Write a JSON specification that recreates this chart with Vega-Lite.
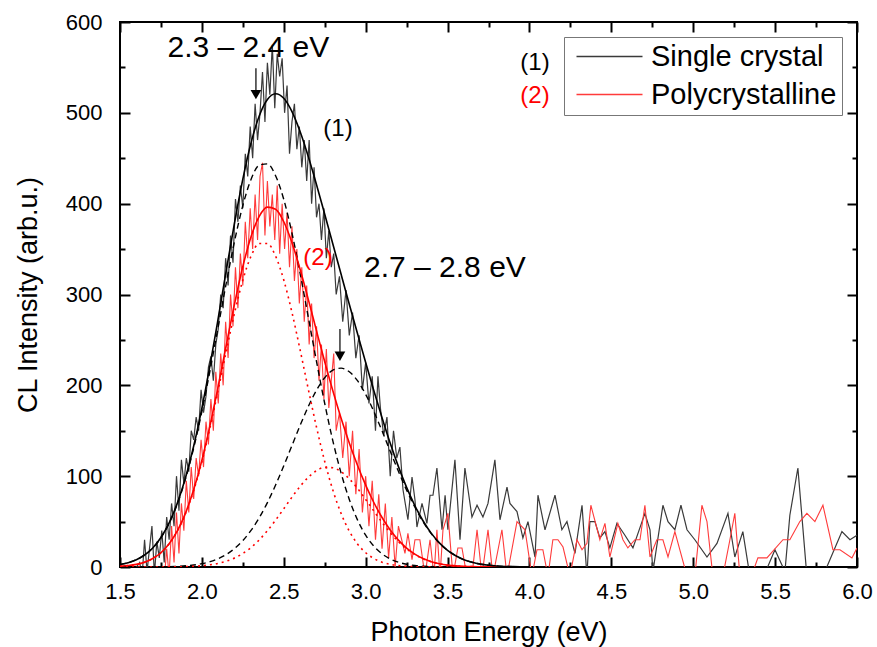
{
  "$schema": "https://vega.github.io/schema/vega-lite/v6.json",
  "width": 737,
  "height": 545,
  "autosize": {"type": "none"},
  "padding": {"left": 120, "top": 22, "right": 20, "bottom": 80},
  "background": "white",
  "config": {
    "font": "Liberation Sans",
    "view": {"stroke": "black", "strokeWidth": 2},
    "axis": {"grid": false, "domain": false, "ticks": true, "tickColor": "black", "tickWidth": 2, "labelColor": "black", "titleColor": "black", "labelFont": "Liberation Sans", "titleFont": "Liberation Sans", "titleFontWeight": "normal", "labelFontSize": 22, "titleFontSize": 27},
    "legend": {"orient": "top-right", "offset": 15, "strokeColor": "#777777", "strokeWidth": 1, "fillColor": "white", "padding": 5, "symbolType": "M-6,0H6", "symbolSize": 121, "symbolStrokeWidth": 1.5, "symbolOffset": 26, "labelFontSize": 29, "labelFont": "Liberation Sans", "labelColor": "black", "rowPadding": 8, "labelOffset": 27, "labelLimit": 300}
  },
  "datasets": {
    "sc": [
      {"e":1.5,"v":-10},{"e":1.53,"v":-5},{"e":1.56,"v":-12},{"e":1.59,"v":-3},{"e":1.62,"v":5},{"e":1.635,"v":-10},{"e":1.65,"v":30},{"e":1.665,"v":-5},{"e":1.68,"v":20},{"e":1.695,"v":45},{"e":1.71,"v":-8},{"e":1.725,"v":28},{"e":1.74,"v":10},{"e":1.755,"v":40},{"e":1.77,"v":5},{"e":1.785,"v":55},{"e":1.8,"v":30},{"e":1.815,"v":70},{"e":1.83,"v":45},{"e":1.845,"v":100},{"e":1.86,"v":62},{"e":1.875,"v":118},{"e":1.89,"v":92},{"e":1.905,"v":120},{"e":1.92,"v":105},{"e":1.935,"v":150},{"e":1.95,"v":140},{"e":1.965,"v":165},{"e":1.98,"v":150},{"e":1.995,"v":195},{"e":2.01,"v":170},{"e":2.025,"v":188},{"e":2.04,"v":220},{"e":2.055,"v":232},{"e":2.07,"v":205},{"e":2.085,"v":245},{"e":2.1,"v":262},{"e":2.115,"v":300},{"e":2.13,"v":285},{"e":2.145,"v":340},{"e":2.16,"v":310},{"e":2.175,"v":365},{"e":2.19,"v":335},{"e":2.205,"v":405},{"e":2.22,"v":380},{"e":2.235,"v":420},{"e":2.25,"v":395},{"e":2.265,"v":455},{"e":2.28,"v":430},{"e":2.295,"v":485},{"e":2.31,"v":450},{"e":2.325,"v":510},{"e":2.34,"v":470},{"e":2.355,"v":500},{"e":2.37,"v":545},{"e":2.385,"v":490},{"e":2.4,"v":555},{"e":2.415,"v":520},{"e":2.43,"v":575},{"e":2.445,"v":505},{"e":2.46,"v":565},{"e":2.475,"v":540},{"e":2.49,"v":560},{"e":2.505,"v":500},{"e":2.52,"v":530},{"e":2.535,"v":455},{"e":2.55,"v":490},{"e":2.565,"v":510},{"e":2.58,"v":460},{"e":2.595,"v":485},{"e":2.61,"v":440},{"e":2.625,"v":470},{"e":2.64,"v":425},{"e":2.655,"v":470},{"e":2.67,"v":400},{"e":2.685,"v":440},{"e":2.7,"v":385},{"e":2.715,"v":400},{"e":2.73,"v":360},{"e":2.745,"v":395},{"e":2.76,"v":340},{"e":2.775,"v":370},{"e":2.79,"v":330},{"e":2.805,"v":345},{"e":2.82,"v":300},{"e":2.84,"v":320},{"e":2.86,"v":270},{"e":2.88,"v":305},{"e":2.9,"v":255},{"e":2.92,"v":280},{"e":2.94,"v":230},{"e":2.96,"v":255},{"e":2.98,"v":195},{"e":3.0,"v":225},{"e":3.02,"v":180},{"e":3.04,"v":210},{"e":3.06,"v":150},{"e":3.075,"v":210},{"e":3.09,"v":175},{"e":3.11,"v":145},{"e":3.13,"v":165},{"e":3.15,"v":100},{"e":3.17,"v":150},{"e":3.19,"v":120},{"e":3.209,"v":132},{"e":3.228,"v":85},{"e":3.258,"v":52},{"e":3.283,"v":99},{"e":3.301,"v":74},{"e":3.313,"v":44},{"e":3.344,"v":70},{"e":3.374,"v":48},{"e":3.393,"v":79},{"e":3.411,"v":79},{"e":3.435,"v":109},{"e":3.466,"v":41},{"e":3.485,"v":79},{"e":3.502,"v":41},{"e":3.545,"v":118},{"e":3.576,"v":30},{"e":3.606,"v":109},{"e":3.649,"v":55},{"e":3.68,"v":68},{"e":3.716,"v":55},{"e":3.747,"v":70},{"e":3.789,"v":118},{"e":3.82,"v":52},{"e":3.863,"v":88},{"e":3.881,"v":70},{"e":3.924,"v":61},{"e":3.96,"v":32},{"e":3.991,"v":50},{"e":4.034,"v":11},{"e":4.052,"v":79},{"e":4.095,"v":41},{"e":4.156,"v":79},{"e":4.198,"v":41},{"e":4.229,"v":50},{"e":4.278,"v":15},{"e":4.321,"v":68},{"e":4.351,"v":-10},{"e":4.369,"v":50},{"e":4.4,"v":50},{"e":4.43,"v":32},{"e":4.461,"v":39},{"e":4.491,"v":21},{"e":4.534,"v":48},{"e":4.583,"v":35},{"e":4.632,"v":21},{"e":4.705,"v":59},{"e":4.736,"v":41},{"e":4.754,"v":-5},{"e":4.815,"v":68},{"e":4.846,"v":50},{"e":4.888,"v":41},{"e":4.925,"v":68},{"e":4.962,"v":41},{"e":5.01,"v":30},{"e":5.084,"v":11},{"e":5.145,"v":26},{"e":5.212,"v":59},{"e":5.254,"v":11},{"e":5.303,"v":39},{"e":5.346,"v":-10},{"e":5.419,"v":-15},{"e":5.499,"v":19},{"e":5.56,"v":-5},{"e":5.59,"v":57},{"e":5.639,"v":109},{"e":5.694,"v":-10},{"e":5.792,"v":-10},{"e":5.908,"v":39},{"e":5.957,"v":30},{"e":6.0,"v":35}
    ],
    "pc": [
      {"e":1.5,"v":-15},{"e":1.56,"v":-20},{"e":1.62,"v":-10},{"e":1.68,"v":-25},{"e":1.74,"v":-8},{"e":1.77,"v":-15},{"e":1.785,"v":20},{"e":1.8,"v":-10},{"e":1.815,"v":45},{"e":1.83,"v":5},{"e":1.845,"v":60},{"e":1.86,"v":15},{"e":1.875,"v":70},{"e":1.89,"v":40},{"e":1.905,"v":95},{"e":1.92,"v":60},{"e":1.935,"v":110},{"e":1.95,"v":75},{"e":1.965,"v":120},{"e":1.98,"v":100},{"e":1.995,"v":140},{"e":2.01,"v":110},{"e":2.025,"v":160},{"e":2.04,"v":135},{"e":2.055,"v":185},{"e":2.07,"v":150},{"e":2.085,"v":215},{"e":2.1,"v":180},{"e":2.115,"v":235},{"e":2.13,"v":200},{"e":2.145,"v":270},{"e":2.16,"v":230},{"e":2.175,"v":300},{"e":2.19,"v":265},{"e":2.205,"v":330},{"e":2.22,"v":285},{"e":2.235,"v":345},{"e":2.25,"v":310},{"e":2.265,"v":380},{"e":2.28,"v":340},{"e":2.295,"v":395},{"e":2.31,"v":350},{"e":2.325,"v":410},{"e":2.34,"v":360},{"e":2.355,"v":430},{"e":2.37,"v":445},{"e":2.385,"v":365},{"e":2.4,"v":425},{"e":2.415,"v":375},{"e":2.43,"v":410},{"e":2.445,"v":360},{"e":2.46,"v":420},{"e":2.475,"v":345},{"e":2.49,"v":400},{"e":2.505,"v":350},{"e":2.52,"v":390},{"e":2.535,"v":330},{"e":2.55,"v":375},{"e":2.565,"v":315},{"e":2.58,"v":350},{"e":2.595,"v":290},{"e":2.61,"v":330},{"e":2.625,"v":270},{"e":2.64,"v":310},{"e":2.655,"v":245},{"e":2.67,"v":290},{"e":2.685,"v":230},{"e":2.7,"v":265},{"e":2.715,"v":205},{"e":2.73,"v":245},{"e":2.745,"v":185},{"e":2.76,"v":240},{"e":2.775,"v":175},{"e":2.79,"v":205},{"e":2.805,"v":235},{"e":2.82,"v":150},{"e":2.84,"v":170},{"e":2.86,"v":120},{"e":2.88,"v":160},{"e":2.9,"v":100},{"e":2.92,"v":150},{"e":2.94,"v":80},{"e":2.96,"v":130},{"e":2.98,"v":60},{"e":3.0,"v":100},{"e":3.02,"v":45},{"e":3.04,"v":95},{"e":3.06,"v":30},{"e":3.08,"v":80},{"e":3.1,"v":20},{"e":3.12,"v":70},{"e":3.14,"v":10},{"e":3.16,"v":55},{"e":3.18,"v":0},{"e":3.2,"v":45},{"e":3.24,"v":15},{"e":3.258,"v":37},{"e":3.283,"v":8},{"e":3.301,"v":30},{"e":3.331,"v":30},{"e":3.362,"v":-10},{"e":3.393,"v":30},{"e":3.417,"v":-10},{"e":3.435,"v":41},{"e":3.454,"v":-10},{"e":3.472,"v":41},{"e":3.502,"v":59},{"e":3.533,"v":-10},{"e":3.563,"v":21},{"e":3.588,"v":21},{"e":3.618,"v":-10},{"e":3.649,"v":-10},{"e":3.68,"v":41},{"e":3.71,"v":-10},{"e":3.747,"v":41},{"e":3.777,"v":-10},{"e":3.832,"v":41},{"e":3.863,"v":-10},{"e":3.924,"v":50},{"e":3.973,"v":41},{"e":4.015,"v":-10},{"e":4.046,"v":19},{"e":4.082,"v":19},{"e":4.113,"v":-10},{"e":4.143,"v":30},{"e":4.174,"v":30},{"e":4.205,"v":22},{"e":4.247,"v":-10},{"e":4.29,"v":30},{"e":4.321,"v":19},{"e":4.351,"v":26},{"e":4.375,"v":68},{"e":4.43,"v":30},{"e":4.461,"v":48},{"e":4.491,"v":11},{"e":4.54,"v":48},{"e":4.571,"v":30},{"e":4.601,"v":21},{"e":4.644,"v":30},{"e":4.675,"v":30},{"e":4.705,"v":68},{"e":4.736,"v":11},{"e":4.778,"v":30},{"e":4.815,"v":30},{"e":4.846,"v":11},{"e":4.888,"v":39},{"e":4.962,"v":-10},{"e":5.01,"v":-10},{"e":5.053,"v":68},{"e":5.084,"v":50},{"e":5.12,"v":-10},{"e":5.181,"v":-10},{"e":5.224,"v":30},{"e":5.254,"v":59},{"e":5.285,"v":-10},{"e":5.365,"v":-5},{"e":5.395,"v":10},{"e":5.45,"v":10},{"e":5.548,"v":30},{"e":5.59,"v":30},{"e":5.651,"v":50},{"e":5.694,"v":59},{"e":5.743,"v":50},{"e":5.792,"v":68},{"e":5.853,"v":19},{"e":5.896,"v":19},{"e":5.969,"v":10},{"e":6.0,"v":21}
    ],
    "fit": [
      {"e":1.5,"b1":2.7,"b2":0,"bs":2.7,"r1":0.8,"r2":0,"rs":0.8},
      {"e":1.55,"b1":4.7,"b2":0,"bs":4.7,"r1":1.6,"r2":0,"rs":1.6},
      {"e":1.6,"b1":8.0,"b2":0,"bs":8.0,"r1":2.9,"r2":0,"rs":2.9},
      {"e":1.65,"b1":13.1,"b2":0.1,"bs":13.2,"r1":5.3,"r2":0,"rs":5.3},
      {"e":1.7,"b1":20.9,"b2":0.1,"bs":21.0,"r1":9.4,"r2":0,"rs":9.4},
      {"e":1.75,"b1":32.3,"b2":0.2,"bs":32.5,"r1":15.7,"r2":0,"rs":15.7},
      {"e":1.8,"b1":48.1,"b2":0.4,"bs":48.5,"r1":25.4,"r2":0.1,"rs":25.5},
      {"e":1.85,"b1":69.5,"b2":0.8,"bs":70.3,"r1":39.5,"r2":0.2,"rs":39.7},
      {"e":1.9,"b1":97.0,"b2":1.3,"bs":98.3,"r1":58.9,"r2":0.4,"rs":59.3},
      {"e":1.95,"b1":131.0,"b2":2.2,"bs":133.2,"r1":84.4,"r2":0.8,"rs":85.2},
      {"e":2.0,"b1":171.3,"b2":3.7,"bs":175.0,"r1":116.2,"r2":1.4,"rs":117.6},
      {"e":2.05,"b1":216.6,"b2":5.9,"bs":222.5,"r1":153.8,"r2":2.4,"rs":156.2},
      {"e":2.1,"b1":265.0,"b2":9.2,"bs":274.2,"r1":195.5,"r2":4.0,"rs":199.5},
      {"e":2.15,"b1":313.7,"b2":13.9,"bs":327.6,"r1":238.8,"r2":6.4,"rs":245.2},
      {"e":2.2,"b1":359.2,"b2":20.4,"bs":379.6,"r1":280.2,"r2":10.0,"rs":290.2},
      {"e":2.25,"b1":398.0,"b2":29.0,"bs":427.0,"r1":315.9,"r2":14.9,"rs":330.8},
      {"e":2.3,"b1":426.6,"b2":40.3,"bs":466.9,"r1":342.2,"r2":21.5,"rs":363.7},
      {"e":2.35,"b1":442.4,"b2":54.2,"bs":496.6,"r1":356.2,"r2":29.8,"rs":386.0},
      {"e":2.4,"b1":443.8,"b2":70.9,"bs":514.7,"r1":356.2,"r2":40.0,"rs":396.2},
      {"e":2.45,"b1":430.8,"b2":90.2,"bs":521.0,"r1":342.2,"r2":51.6,"rs":393.8},
      {"e":2.5,"b1":404.6,"b2":111.4,"bs":516.0,"r1":315.9,"r2":64.2,"rs":380.1},
      {"e":2.55,"b1":367.6,"b2":133.7,"bs":501.3,"r1":280.2,"r2":76.9,"rs":357.1},
      {"e":2.6,"b1":323.1,"b2":156.0,"bs":479.1,"r1":238.8,"r2":88.8,"rs":327.6},
      {"e":2.65,"b1":274.8,"b2":176.8,"bs":451.6,"r1":195.5,"r2":98.9,"rs":294.4},
      {"e":2.7,"b1":226.1,"b2":194.7,"bs":420.8,"r1":153.8,"r2":106.1,"rs":259.9},
      {"e":2.75,"b1":180.0,"b2":208.4,"bs":388.4,"r1":116.2,"r2":109.7,"rs":225.9},
      {"e":2.8,"b1":138.6,"b2":216.7,"bs":355.3,"r1":84.4,"r2":109.3,"rs":193.7},
      {"e":2.85,"b1":103.3,"b2":218.9,"bs":322.2,"r1":58.9,"r2":104.9,"rs":163.8},
      {"e":2.9,"b1":74.4,"b2":214.9,"bs":289.3,"r1":39.5,"r2":97.1,"rs":136.6},
      {"e":2.95,"b1":51.9,"b2":205.1,"bs":257.0,"r1":25.4,"r2":86.6,"rs":112.0},
      {"e":3.0,"b1":35.0,"b2":190.1,"bs":225.1,"r1":15.7,"r2":74.4,"rs":90.1},
      {"e":3.05,"b1":22.9,"b2":171.2,"bs":194.1,"r1":9.4,"r2":61.6,"rs":71.0},
      {"e":3.1,"b1":14.5,"b2":149.8,"bs":164.3,"r1":5.3,"r2":49.2,"rs":54.5},
      {"e":3.15,"b1":8.8,"b2":127.4,"bs":136.2,"r1":2.9,"r2":37.8,"rs":40.7},
      {"e":3.2,"b1":5.2,"b2":105.3,"bs":110.5,"r1":1.6,"r2":28.0,"rs":29.6},
      {"e":3.25,"b1":3.0,"b2":84.6,"bs":87.6,"r1":0.8,"r2":20.0,"rs":20.8},
      {"e":3.3,"b1":1.7,"b2":66.0,"bs":67.7,"r1":0.4,"r2":13.8,"rs":14.2},
      {"e":3.35,"b1":0.9,"b2":50.0,"bs":50.9,"r1":0.2,"r2":9.1,"rs":9.3},
      {"e":3.4,"b1":0.5,"b2":36.8,"bs":37.3,"r1":0.1,"r2":5.8,"rs":5.9},
      {"e":3.45,"b1":0.2,"b2":26.4,"bs":26.6,"r1":0,"r2":3.6,"rs":3.6},
      {"e":3.5,"b1":0.1,"b2":18.3,"bs":18.4,"r1":0,"r2":2.1,"rs":2.1},
      {"e":3.55,"b1":0,"b2":12.4,"bs":12.4,"r1":0,"r2":1.2,"rs":1.2},
      {"e":3.6,"b1":0,"b2":8.1,"bs":8.1,"r1":0,"r2":0.7,"rs":0.7},
      {"e":3.65,"b1":0,"b2":5.2,"bs":5.2,"r1":0,"r2":0.4,"rs":0.4},
      {"e":3.7,"b1":0,"b2":3.2,"bs":3.2,"r1":0,"r2":0.2,"rs":0.2},
      {"e":3.75,"b1":0,"b2":1.9,"bs":1.9,"r1":0,"r2":0.1,"rs":0.1},
      {"e":3.8,"b1":0,"b2":1.1,"bs":1.1,"r1":0,"r2":0,"rs":0},
      {"e":3.9,"b1":0,"b2":0.4,"bs":0.4,"r1":0,"r2":0,"rs":0},
      {"e":4.0,"b1":0,"b2":0.1,"bs":0.1,"r1":0,"r2":0,"rs":0}
    ]
  },
  "resolve": {"axis": {"x": "independent", "y": "independent"}},
  "layer": [
    {
      "data": {"name": "sc"},
      "mark": {"type": "line", "clip": true, "strokeWidth": 1.2},
      "encoding": {
        "x": {"field": "e", "type": "quantitative", "scale": {"domain": [1.5, 6], "nice": false, "zero": false},
              "axis": {"orient": "bottom", "values": [1.5, 2, 2.5, 3, 3.5, 4, 4.5, 5, 5.5, 6], "format": ".1f", "tickSize": 0, "labelPadding": 14, "labelFlush": false, "title": "Photon Energy (eV)", "titlePadding": 17}},
        "y": {"field": "v", "type": "quantitative", "scale": {"domain": [0, 600], "nice": false},
              "axis": {"orient": "left", "values": [0, 100, 200, 300, 400, 500, 600], "format": "d", "tickSize": 0, "labelPadding": 18, "title": "CL Intensity (arb.u.)", "titlePadding": 23}},
        "color": {"datum": "Single crystal", "type": "nominal", "scale": {"domain": ["Single crystal", "Polycrystalline"], "range": ["#3a3a3a", "#ff3b3b"]}, "legend": {"title": null}}
      }
    },
    {
      "data": {"name": "pc"},
      "mark": {"type": "line", "clip": true, "strokeWidth": 1.1},
      "encoding": {
        "x": {"field": "e", "type": "quantitative", "axis": {"orient": "bottom", "values": [1.5, 2, 2.5, 3, 3.5, 4, 4.5, 5, 5.5, 6], "offset": -10, "tickSize": 10, "labels": false, "title": null}},
        "y": {"field": "v", "type": "quantitative", "axis": {"orient": "left", "values": [0, 100, 200, 300, 400, 500, 600], "offset": -10, "tickSize": 10, "labels": false, "title": null}},
        "color": {"datum": "Polycrystalline", "type": "nominal"}
      }
    },
    {
      "data": {"name": "fit"},
      "mark": {"type": "line", "clip": true, "color": "black", "strokeWidth": 1.4, "strokeDash": [6, 4], "interpolate": "monotone"},
      "encoding": {
        "x": {"field": "e", "type": "quantitative", "axis": {"orient": "bottom", "values": [1.75, 2.25, 2.75, 3.25, 3.75, 4.25, 4.75, 5.25, 5.75], "offset": -5, "tickSize": 5, "labels": false, "title": null}},
        "y": {"field": "b1", "type": "quantitative", "axis": {"orient": "left", "values": [50, 150, 250, 350, 450, 550], "offset": -5, "tickSize": 5, "labels": false, "title": null}}
      }
    },
    {
      "data": {"name": "fit"},
      "mark": {"type": "line", "clip": true, "color": "black", "strokeWidth": 1.4, "strokeDash": [6, 4], "interpolate": "monotone"},
      "encoding": {
        "x": {"field": "e", "type": "quantitative", "axis": {"orient": "top", "values": [1.5, 2, 2.5, 3, 3.5, 4, 4.5, 5, 5.5, 6], "offset": -10, "tickSize": 10, "labels": false, "title": null}},
        "y": {"field": "b2", "type": "quantitative", "axis": {"orient": "right", "values": [0, 100, 200, 300, 400, 500, 600], "offset": -10, "tickSize": 10, "labels": false, "title": null}}
      }
    },
    {
      "data": {"name": "fit"},
      "mark": {"type": "line", "clip": true, "color": "#ff0000", "strokeWidth": 1.6, "strokeDash": [2, 4], "interpolate": "monotone"},
      "encoding": {
        "x": {"field": "e", "type": "quantitative", "axis": {"orient": "top", "values": [1.75, 2.25, 2.75, 3.25, 3.75, 4.25, 4.75, 5.25, 5.75], "offset": -5, "tickSize": 5, "labels": false, "title": null}},
        "y": {"field": "r1", "type": "quantitative", "axis": {"orient": "right", "values": [50, 150, 250, 350, 450, 550], "offset": -5, "tickSize": 5, "labels": false, "title": null}}
      }
    },
    {
      "data": {"name": "fit"},
      "mark": {"type": "line", "clip": true, "color": "#ff0000", "strokeWidth": 1.6, "strokeDash": [2, 4], "interpolate": "monotone"},
      "encoding": {
        "x": {"field": "e", "type": "quantitative", "axis": null},
        "y": {"field": "r2", "type": "quantitative", "axis": null}
      }
    },
    {
      "data": {"name": "fit"},
      "mark": {"type": "line", "clip": true, "color": "#ff0000", "strokeWidth": 1.6, "interpolate": "monotone"},
      "encoding": {
        "x": {"field": "e", "type": "quantitative", "axis": null},
        "y": {"field": "rs", "type": "quantitative", "axis": null}
      }
    },
    {
      "data": {"name": "fit"},
      "mark": {"type": "line", "clip": true, "color": "black", "strokeWidth": 1.6, "interpolate": "monotone"},
      "encoding": {
        "x": {"field": "e", "type": "quantitative", "axis": null},
        "y": {"field": "bs", "type": "quantitative", "axis": null}
      }
    },
    {
      "data": {"values": [{"e": 2.33, "v1": 549, "v2": 520}, {"e": 2.843, "v1": 262, "v2": 232}]},
      "mark": {"type": "rule", "color": "black", "strokeWidth": 1.2},
      "encoding": {
        "x": {"field": "e", "type": "quantitative", "axis": null},
        "y": {"field": "v1", "type": "quantitative", "axis": null},
        "y2": {"field": "v2"}
      }
    },
    {
      "data": {"values": [{"e": 2.33, "v": 520}, {"e": 2.843, "v": 232}]},
      "mark": {"type": "point", "shape": "triangle-down", "filled": true, "color": "black", "size": 115, "opacity": 1},
      "encoding": {
        "x": {"field": "e", "type": "quantitative", "axis": null},
        "y": {"field": "v", "type": "quantitative", "axis": null}
      }
    },
    {
      "data": {"values": [{"e": 2.284, "v": 561.5, "t": "2.3 – 2.4 eV"}, {"e": 3.484, "v": 319, "t": "2.7 – 2.8 eV"}]},
      "mark": {"type": "text", "fontSize": 30, "font": "Liberation Sans", "color": "black", "align": "center", "baseline": "alphabetic"},
      "encoding": {
        "x": {"field": "e", "type": "quantitative", "axis": null},
        "y": {"field": "v", "type": "quantitative", "axis": null},
        "text": {"field": "t"}
      }
    },
    {
      "data": {"values": [{"e": 2.831, "v": 474, "t": "(1)"}, {"e": 4.034, "v": 547, "t": "(1)"}]},
      "mark": {"type": "text", "fontSize": 24, "font": "Liberation Sans", "color": "black", "align": "center", "baseline": "alphabetic"},
      "encoding": {
        "x": {"field": "e", "type": "quantitative", "axis": null},
        "y": {"field": "v", "type": "quantitative", "axis": null},
        "text": {"field": "t"}
      }
    },
    {
      "data": {"values": [{"e": 2.709, "v": 332, "t": "(2)"}, {"e": 4.034, "v": 511, "t": "(2)"}]},
      "mark": {"type": "text", "fontSize": 24, "font": "Liberation Sans", "color": "#ff0000", "align": "center", "baseline": "alphabetic"},
      "encoding": {
        "x": {"field": "e", "type": "quantitative", "axis": null},
        "y": {"field": "v", "type": "quantitative", "axis": null},
        "text": {"field": "t"}
      }
    }
  ]
}
